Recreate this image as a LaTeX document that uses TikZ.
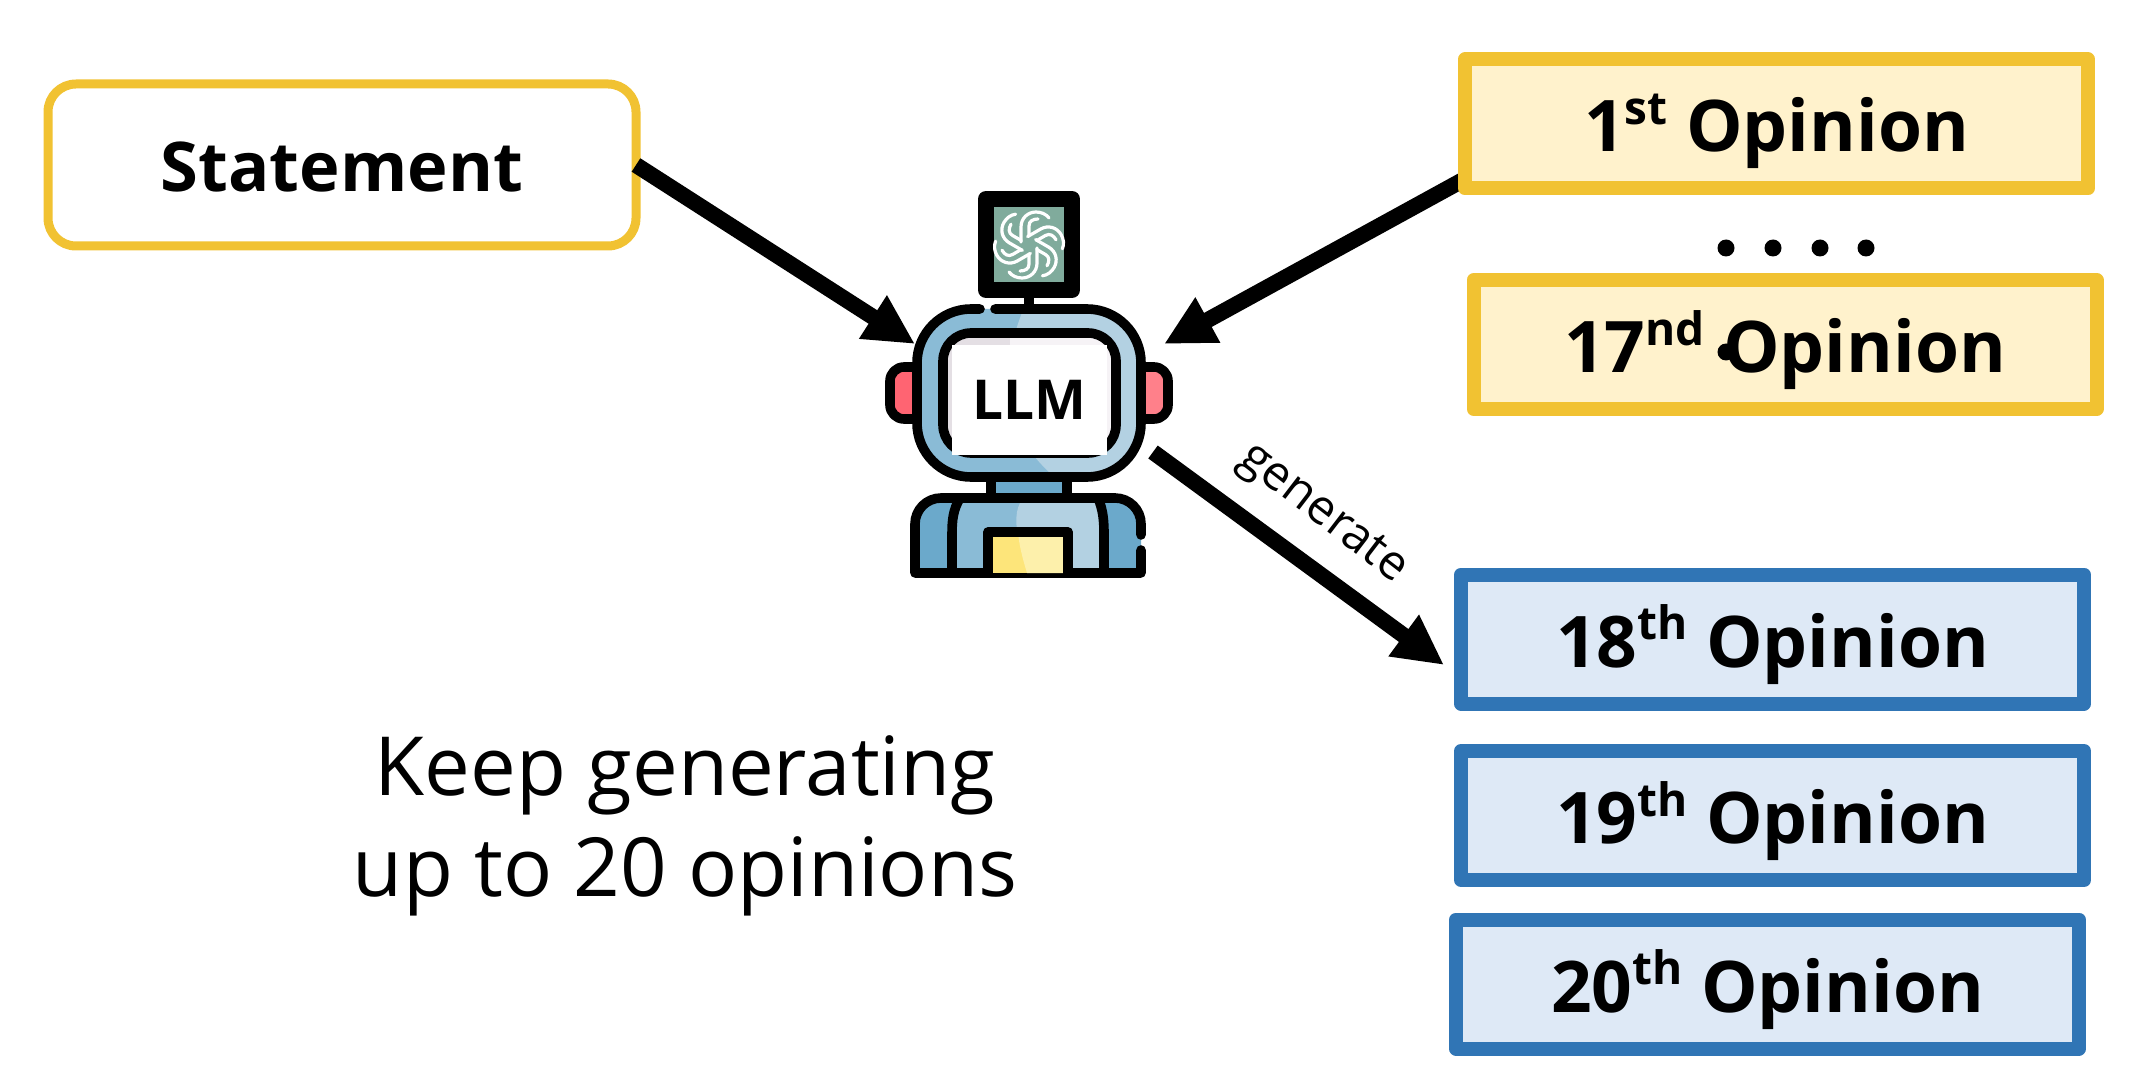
\documentclass[tikz,border=0pt]{standalone}
\usepackage{fontspec}
\setmainfont{Open Sans}
\usetikzlibrary{arrows.meta,calc,backgrounds}
\definecolor{goldline}{HTML}{F1C232}
\definecolor{goldfill}{HTML}{FFF2CC}
\definecolor{blueline}{HTML}{3075B5}
\definecolor{bluefill}{HTML}{DEE9F6}
\definecolor{rbmid}{HTML}{8ABBD6}
\definecolor{rblight}{HTML}{B3D1E2}
\definecolor{rbdark}{HTML}{6BA9CB}
\definecolor{rbgreen}{HTML}{80AB9C}
\definecolor{earl}{HTML}{FF6472}
\definecolor{earr}{HTML}{FF808A}
\definecolor{scrl}{HTML}{E4DFE4}
\definecolor{scrr}{HTML}{F6F3F6}
\definecolor{yell}{HTML}{FDE57A}
\definecolor{yelr}{HTML}{FDF0AB}
\newcommand{\supr}[1]{\raisebox{.38em}{\fontsize{23}{23}\selectfont #1}}
\newcommand{\optext}[2]{#1\supr{#2} Opinion}
\tikzset{
  goldbox/.style={draw=goldline,fill=goldfill,line width=7pt,line join=round,minimum width=311.5pt,minimum height=64.5pt,inner sep=0pt,outer sep=0pt,text height=30pt,text depth=2pt,font=\fontsize{35.6}{35.6}\selectfont\bfseries},
  bluebox/.style={goldbox,draw=blueline,fill=bluefill},
  stmtbox/.style={draw=goldline,fill=white,line width=4.5pt,rounded corners=14pt,minimum width=294pt,minimum height=81pt,inner sep=0pt,outer sep=0pt,text height=28.5pt,text depth=2pt,font=\fontsize{34.3}{34.3}\selectfont\bfseries},
  bigarrow/.style={line width=8pt,-{Triangle[length=25pt,width=24pt]}},
  rob/.style={line width=4.8pt,line join=round,line cap=round},
  edot/.style={circle,fill=black,inner sep=0pt,minimum size=8.5pt,outer sep=0pt},
  plain/.style={inner sep=0pt,outer sep=0pt},
  logoline/.style={white,line width=1.6pt,line cap=round}
}
\begin{document}
\begin{tikzpicture}[x=0.5pt,y=-0.5pt]
\useasboundingbox (0,0) rectangle (2129,1079);
% antenna screen
\fill[rbgreen] (986,199) rectangle (1072,290);
\draw[line width=8pt,line join=round] (986,199) rectangle (1072,290);
\draw[rob] (1029,297) -- (1029,309);
\foreach \i in {0,60,...,300}{
 \begin{scope}[shift={(1029,245)},rotate=\i]
  \draw[logoline] (-8,-3) -- (-8,-18) .. controls (-8,-27) and (-1,-33) .. (7,-33) .. controls (12,-33) and (17,-31) .. (20,-27);
  \draw[logoline] (0,-9) -- (0,-19) .. controls (0,-24) and (4,-26) .. (9,-26);
 \end{scope}
}
% ears
\fill[earl,rounded corners=3pt] (895,372) rectangle (925,414);
\draw[rob,rounded corners=7pt] (925,367) -- (890,367) -- (890,419) -- (925,419);
\fill[earr,rounded corners=3pt] (1133,372) rectangle (1163,414);
\draw[rob,rounded corners=7pt] (1133,367) -- (1168,367) -- (1168,419) -- (1133,419);
% head
\fill[rbmid,rounded corners=27pt] (917,309) rectangle (1141,477);
\begin{scope}
 \clip[rounded corners=27pt] (917,309) rectangle (1141,477);
 \fill[rblight] (1025,305) .. controls (990,390) and (1010,440) .. (1060,482) -- (1150,482) -- (1150,305) -- cycle;
\end{scope}
\draw[rob,rounded corners=27pt] (995,309) -- (1141,309) -- (1141,477) -- (917,477) -- (917,309) -- (980,309);
% face
\fill[scrl,rounded corners=14pt] (943,333) rectangle (1116,453);
\begin{scope}
 \clip[rounded corners=14pt] (943,333) rectangle (1116,453);
 \fill[scrr] (1010,333) rectangle (1116,453);
\end{scope}
\draw[rob,rounded corners=14pt] (943,333) rectangle (1116,453);
\fill[white] (952,345) rectangle (1107,455);
\node[plain,font=\fontsize{27.5}{27.5}\selectfont\bfseries] (llm) at (1029,400) {LLM};
% neck
\draw[rob,fill=rbdark] (991,477) rectangle (1067,498);
% body
\fill[rbdark] (915,573) [rounded corners=13pt] -- (915,498) -- (1141,498) [sharp corners] -- (1141,573) -- cycle;
\fill[rbmid] (952,573) -- (952,535) .. controls (952,520) and (953,510) .. (960,498) -- (1098,498) .. controls (1103,510) and (1104,520) .. (1104,535) -- (1104,573) -- cycle;
\fill[rblight] (1023,498) .. controls (1014,510) and (1016,525) .. (1018,537) -- (1027,573) -- (1104,573) -- (1104,535) .. controls (1104,520) and (1103,510) .. (1098,498) -- cycle;
\draw[rob] (1141,535) [rounded corners=13pt] -- (1141,498) -- (915,498) [sharp corners] -- (915,573) -- (1141,573) -- (1141,550);
\draw[rob] (960,498) .. controls (953,510) and (952,520) .. (952,535) -- (952,573);
\draw[rob] (1098,498) .. controls (1103,510) and (1104,520) .. (1104,535) -- (1104,573);
\fill[yell] (988,532) rectangle (1068,573);
\fill[yelr] (1018,532) .. controls (1019,545) and (1023,560) .. (1027,573) -- (1068,573) -- (1068,532) -- cycle;
\draw[rob] (988,573) -- (988,532) -- (1068,532) -- (1068,573);
% statement and opinions
\node[stmtbox] (stmt) at (342,165) {Statement};
\node[goldbox] (op1) at (1776.5,124) {\optext{1}{st}};
\node[goldbox] (op17) at (1785,344.5) {\optext{17}{nd}};
\node[edot] (strayd) at (1726,352) {};
\node[bluebox] (op18) at (1772.5,639) {\optext{18}{th}};
\node[bluebox] (op19) at (1772.5,815.5) {\optext{19}{th}};
\node[bluebox] (op20) at (1767.5,984) {\optext{20}{th}};
% connectors
\coordinate (tipa) at (915,344);
\coordinate (tipb) at (1164,344);
\coordinate (startc) at (1153,452);
\coordinate (tipc) at (1444,665);
\begin{scope}[on background layer]
\draw[bigarrow] (op1.190.5) -- (tipb);
\end{scope}
\draw[bigarrow] (stmt.east) -- (tipa);
\draw[bigarrow] (startc) -- (tipc);
\node[plain,rotate=-37.5,font=\fontsize{24}{24}\selectfont] (gen) at (1322,515) {generate};
\foreach \xx/\nm in {1726/a,1773/b,1820/c,1866/d}{\node[edot] (dot\nm) at (\xx,248) {};}
\node[plain,font=\fontsize{40.8}{40.8}\selectfont,align=center] (keep) at (685,826) {Keep generating\\[10pt]up to 20 opinions};
\end{tikzpicture}
\end{document}
